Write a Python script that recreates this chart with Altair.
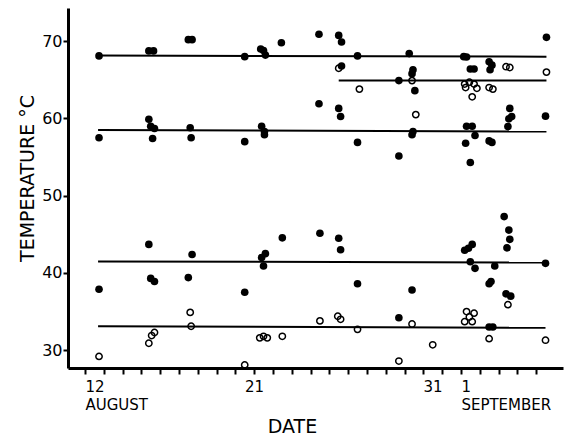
import altair as alt
import pandas as pd

# ---- data (day of August; 1 September = 32) ----
filled_day = [12.75, 15.4, 15.65, 17.5, 17.7, 20.5, 21.35, 21.5, 21.6, 22.45, 24.45,
              25.5, 25.65, 26.5, 29.25, 32.15, 32.3, 36.55,
              25.65, 29.45, 29.4, 28.7, 29.55, 32.5, 32.7, 33.5, 33.65, 33.55,
              12.75, 15.4, 15.5, 15.7, 15.6, 17.6, 17.65, 20.5, 21.4, 21.55, 21.55,
              24.45, 25.5, 25.6, 26.5, 28.7, 29.45, 29.4, 32.3, 32.6, 32.75, 32.25, 32.5,
              33.5, 33.65, 34.6, 34.7, 34.55, 34.5, 36.5,
              12.75, 15.4, 15.5, 15.7, 17.7, 17.5, 20.5, 21.4, 21.6, 21.5, 22.5, 24.5,
              25.5, 25.6, 26.5, 28.7, 29.4, 32.2, 32.4, 32.6, 32.5, 32.75, 33.8, 33.5, 33.6,
              34.3, 34.55, 34.6, 34.45, 34.4, 34.65, 36.5, 33.5, 33.7]
filled_temp = [68.1, 68.75, 68.75, 70.2, 70.2, 68.0, 69.0, 68.8, 68.2, 69.8, 70.9,
               70.75, 69.9, 68.1, 68.4, 68.0, 67.95, 70.5,
               66.8, 66.3, 65.8, 64.9, 63.6, 66.4, 66.4, 67.35, 66.9, 66.3,
               57.5, 59.9, 59.0, 58.7, 57.4, 58.8, 57.5, 57.0, 59.0, 58.3, 57.9,
               61.9, 61.3, 60.25, 56.9, 55.15, 58.3, 57.9, 59.0, 59.0, 57.8, 56.8, 54.3,
               57.1, 56.9, 61.3, 60.25, 59.95, 58.95, 60.3,
               37.9, 43.7, 39.3, 38.9, 42.4, 39.4, 37.5, 42.0, 42.5, 40.9, 44.55, 45.15,
               44.5, 43.0, 38.6, 34.2, 37.8, 42.95, 43.2, 43.7, 41.45, 40.6, 40.9, 38.6, 38.9,
               47.3, 45.55, 44.35, 43.25, 37.3, 37.0, 41.25, 33.0, 33.0]

open_day = [25.5, 29.4, 26.6, 29.6, 34.4, 34.6, 36.55,
            32.2, 32.45, 32.7, 32.85, 32.25, 32.6, 33.5, 33.7,
            12.75, 15.4, 15.55, 15.7, 17.6, 17.65, 20.5, 21.3, 21.5, 21.7, 22.5, 24.5,
            25.45, 25.6, 26.5, 28.7, 29.4, 30.5, 32.3, 32.7, 32.2, 32.6, 32.45,
            33.5, 34.5, 36.5]
open_temp = [66.5, 64.9, 63.8, 60.5, 66.7, 66.6, 66.0,
             64.45, 64.7, 64.45, 63.9, 64.0, 62.8, 64.0, 63.8,
             29.2, 30.9, 31.9, 32.3, 34.9, 33.1, 28.1, 31.6, 31.8, 31.6, 31.8, 33.8,
             34.4, 34.0, 32.7, 28.6, 33.4, 30.7, 35.0, 34.8, 33.7, 33.7, 34.3,
             31.5, 35.9, 31.3]

line_day_start = [12.7, 12.7, 25.5, 12.7, 12.7]
line_day_end = [36.55, 36.55, 36.55, 36.5, 36.5]
line_temp_start = [68.15, 58.5, 64.9, 41.5, 33.1]
line_temp_end = [68.0, 58.3, 64.9, 41.35, 32.9]

tick_days = list(range(12, 37))

filled_df = pd.DataFrame({"day": filled_day, "temp": filled_temp})
open_df = pd.DataFrame({"day": open_day, "temp": open_temp})
line_df = pd.DataFrame({"d1": line_day_start, "d2": line_day_end,
                        "t1": line_temp_start, "t2": line_temp_end})

FONT = "DejaVu Sans"

x_scale = alt.Scale(domain=[11.1, 37.43], nice=False, zero=False)
y_scale = alt.Scale(domain=[27.7, 74.3], nice=False, zero=False)

x_axis = alt.Axis(
    values=tick_days,
    labelExpr=("datum.value == 12 ? ['12', 'AUGUST'] : datum.value == 21 ? '21' : "
               "datum.value == 31 ? '31' : datum.value == 32 ? ['1', 'SEPTEMBER'] : ''"),
    labelAlign={"condition": [{"test": "datum.value == 31", "value": "right"},
                              {"test": "datum.value == 21", "value": "center"}],
                "value": "left"},
    labelOverlap=False,
    labelFontSize=15,
    labelLineHeight=18,
    labelPadding=5,
    labelFont=FONT,
    labelColor="black",
    tickSize=6,
    tickWidth=2,
    tickColor="black",
    domainWidth=3,
    domainColor="black",
    grid=False,
    title="DATE",
    titleFont=FONT,
    titleFontSize=19,
    titleFontWeight="normal",
    titleColor="black",
    titleX=224,
    titleY=64,
    titleBaseline="alphabetic",
    titleAnchor="middle",
    titleAlign="center",
)

y_axis = alt.Axis(
    values=[30, 40, 50, 60, 70],
    labelFontSize=16,
    labelFont=FONT,
    labelColor="black",
    labelPadding=1,
    tickSize=5,
    tickWidth=2,
    tickColor="black",
    domainWidth=3,
    domainColor="black",
    grid=False,
    title="TEMPERATURE °C",
    titleFont=FONT,
    titleFontSize=19,
    titleFontWeight="normal",
    titleColor="black",
    titleX=-35,
    titleY=170,
    titleBaseline="alphabetic",
    titleAlign="center",
    titleAngle=270,
)

lines = alt.Chart(line_df).mark_rule(color="black", strokeWidth=2).encode(
    x=alt.X("d1:Q", scale=x_scale, axis=x_axis),
    x2="d2:Q",
    y=alt.Y("t1:Q", scale=y_scale, axis=y_axis),
    y2="t2:Q",
)

open_pts = alt.Chart(open_df).mark_point(
    shape="circle", size=40, filled=False, stroke="black", strokeWidth=1.5, opacity=1
).encode(
    x=alt.X("day:Q", scale=x_scale, axis=x_axis),
    y=alt.Y("temp:Q", scale=y_scale, axis=y_axis),
)

filled_pts = alt.Chart(filled_df).mark_circle(size=58, color="black", opacity=1).encode(
    x=alt.X("day:Q", scale=x_scale, axis=x_axis),
    y=alt.Y("temp:Q", scale=y_scale, axis=y_axis),
)

chart = alt.layer(lines, open_pts, filled_pts).properties(
    width=495,
    height=360,
    autosize=alt.AutoSizeParams(type="none"),
    padding={"left": 60, "top": 0, "right": 5, "bottom": 70},
    background="white",
).configure_view(stroke=None)

chart.save("out.html", embed_options={"renderer": "svg", "actions": False})
